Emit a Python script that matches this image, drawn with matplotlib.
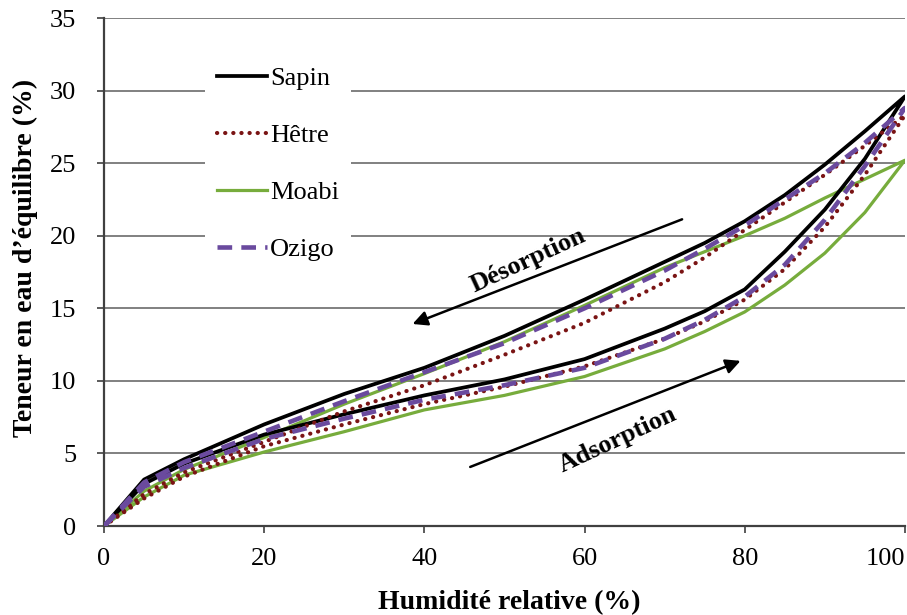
import numpy as np
import matplotlib
matplotlib.use("Agg")
import matplotlib.pyplot as plt

plt.rcParams['font.family'] = ['Liberation Serif', 'DejaVu Serif']

# humidite relative (%)
rh = [0, 5, 10, 20, 30, 40, 50, 60, 70, 75, 80, 85, 90, 95, 100]

# teneur en eau - adsorption / desorption
sapin_ads = [0, 2.9, 4.3, 6.3, 7.7, 9.0, 10.1, 11.5, 13.6, 14.8, 16.3, 18.9, 21.8, 25.3, 29.6]
sapin_des = [0, 3.2, 4.6, 7.0, 9.1, 10.9, 13.1, 15.6, 18.2, 19.5, 21.0, 22.8, 24.9, 27.2, 29.6]

hetre_ads = [0, 1.9, 3.4, 5.5, 7.0, 8.4, 9.6, 11.0, 12.9, 14.1, 15.6, 17.7, 20.6, 24.2, 28.3]
hetre_des = [0, 2.2, 3.7, 5.8, 7.9, 9.7, 11.8, 14.0, 16.8, 18.5, 20.4, 22.3, 24.2, 26.2, 28.3]

moabi_ads = [0, 2.0, 3.5, 5.1, 6.5, 8.0, 9.0, 10.3, 12.2, 13.4, 14.75, 16.6, 18.8, 21.6, 25.2]
moabi_des = [0, 2.4, 3.9, 6.1, 8.4, 10.5, 12.7, 15.2, 17.8, 18.9, 20.0, 21.2, 22.6, 23.9, 25.2]

ozigo_ads = [0, 2.7, 4.0, 6.0, 7.4, 8.7, 9.7, 10.9, 12.9, 14.2, 15.8, 18.0, 21.1, 24.8, 28.8]
ozigo_des = [0, 3.0, 4.4, 6.5, 8.6, 10.6, 12.6, 15.0, 17.6, 19.1, 20.7, 22.5, 24.3, 26.4, 28.8]

fig = plt.figure(figsize=(9.07, 6.15), dpi=100)
ax = fig.add_axes([0.1147, 0.1447, 0.883, 0.826])

def boucle(ads, des):
    x = rh + rh[::-1]
    y = ads + des[::-1]
    return x, y

x, y = boucle(moabi_ads, moabi_des)
ax.plot(x, y, color='#77AC3C', lw=2.3, label='Moabi', zorder=3)
x, y = boucle(sapin_ads, sapin_des)
ax.plot(x, y, color='black', lw=2.7, label='Sapin', zorder=4)
x, y = boucle(hetre_ads, hetre_des)
ax.plot(x, y, color='#7A1414', lw=3.0, ls=(0, (0.05, 1.9)), dash_capstyle='round',
        label='Hêtre', zorder=5)
x, y = boucle(ozigo_ads, ozigo_des)
ax.plot(x, y, color='#6A4A9E', lw=3.3, ls=(0, (3.2, 2.0)), label='Ozigo', zorder=6)

ax.set_xlim(0, 100)
ax.set_ylim(0, 35)
ax.set_xticks([0, 20, 40, 60, 80, 100])
ax.set_yticks(range(0, 36, 5))
ax.yaxis.grid(True, color='#808080', lw=1.4)
ax.set_axisbelow(True)
for s in ['top', 'right']:
    ax.spines[s].set_visible(False)
for s in ['left', 'bottom']:
    ax.spines[s].set_color('#404040')
    ax.spines[s].set_linewidth(1.6)
ax.tick_params(axis='both', labelsize=19, color='#404040', length=5, width=1.2)
ax.tick_params(axis='x', pad=11)
ax.tick_params(axis='y', pad=15)
ax.get_xticklabels()[-1].set_horizontalalignment('right')

ax.set_xlabel('Humidité relative (%)', fontsize=20, fontweight='bold')
ax.set_ylabel('Teneur en eau d’équilibre (%)', fontsize=20, fontweight='bold')
ax.xaxis.set_label_coords(0.506, -0.126)
ax.yaxis.set_label_coords(-0.082, 0.528)

h, l = ax.get_legend_handles_labels()
ordre = [1, 2, 0, 3]
leg = ax.legend([h[i] for i in ordre], [l[i] for i in ordre], loc='upper left',
                bbox_to_anchor=(0.110, 0.953), fontsize=19, frameon=True,
                facecolor='white', edgecolor='none', framealpha=1, fancybox=False,
                labelspacing=1.27, handlelength=1.9, handletextpad=0.1, borderpad=0.45)
leg.set_zorder(10)

# fleches desorption / adsorption
ax.annotate('', xy=(38.2, 13.85), xytext=(72.5, 21.2),
            arrowprops=dict(arrowstyle='-|>', color='black', lw=1.8, mutation_scale=22))
ax.text(52.9, 18.3, 'Désorption', fontsize=19, fontweight='bold', rotation=24.8,
        ha='center', va='center')
ax.annotate('', xy=(79.8, 11.45), xytext=(45.4, 4.0),
            arrowprops=dict(arrowstyle='-|>', color='black', lw=1.8, mutation_scale=22))
ax.text(64.2, 5.95, 'Adsorption', fontsize=19, fontweight='bold', rotation=24.9,
        ha='center', va='center')

fig.savefig('out.png', dpi=100)
